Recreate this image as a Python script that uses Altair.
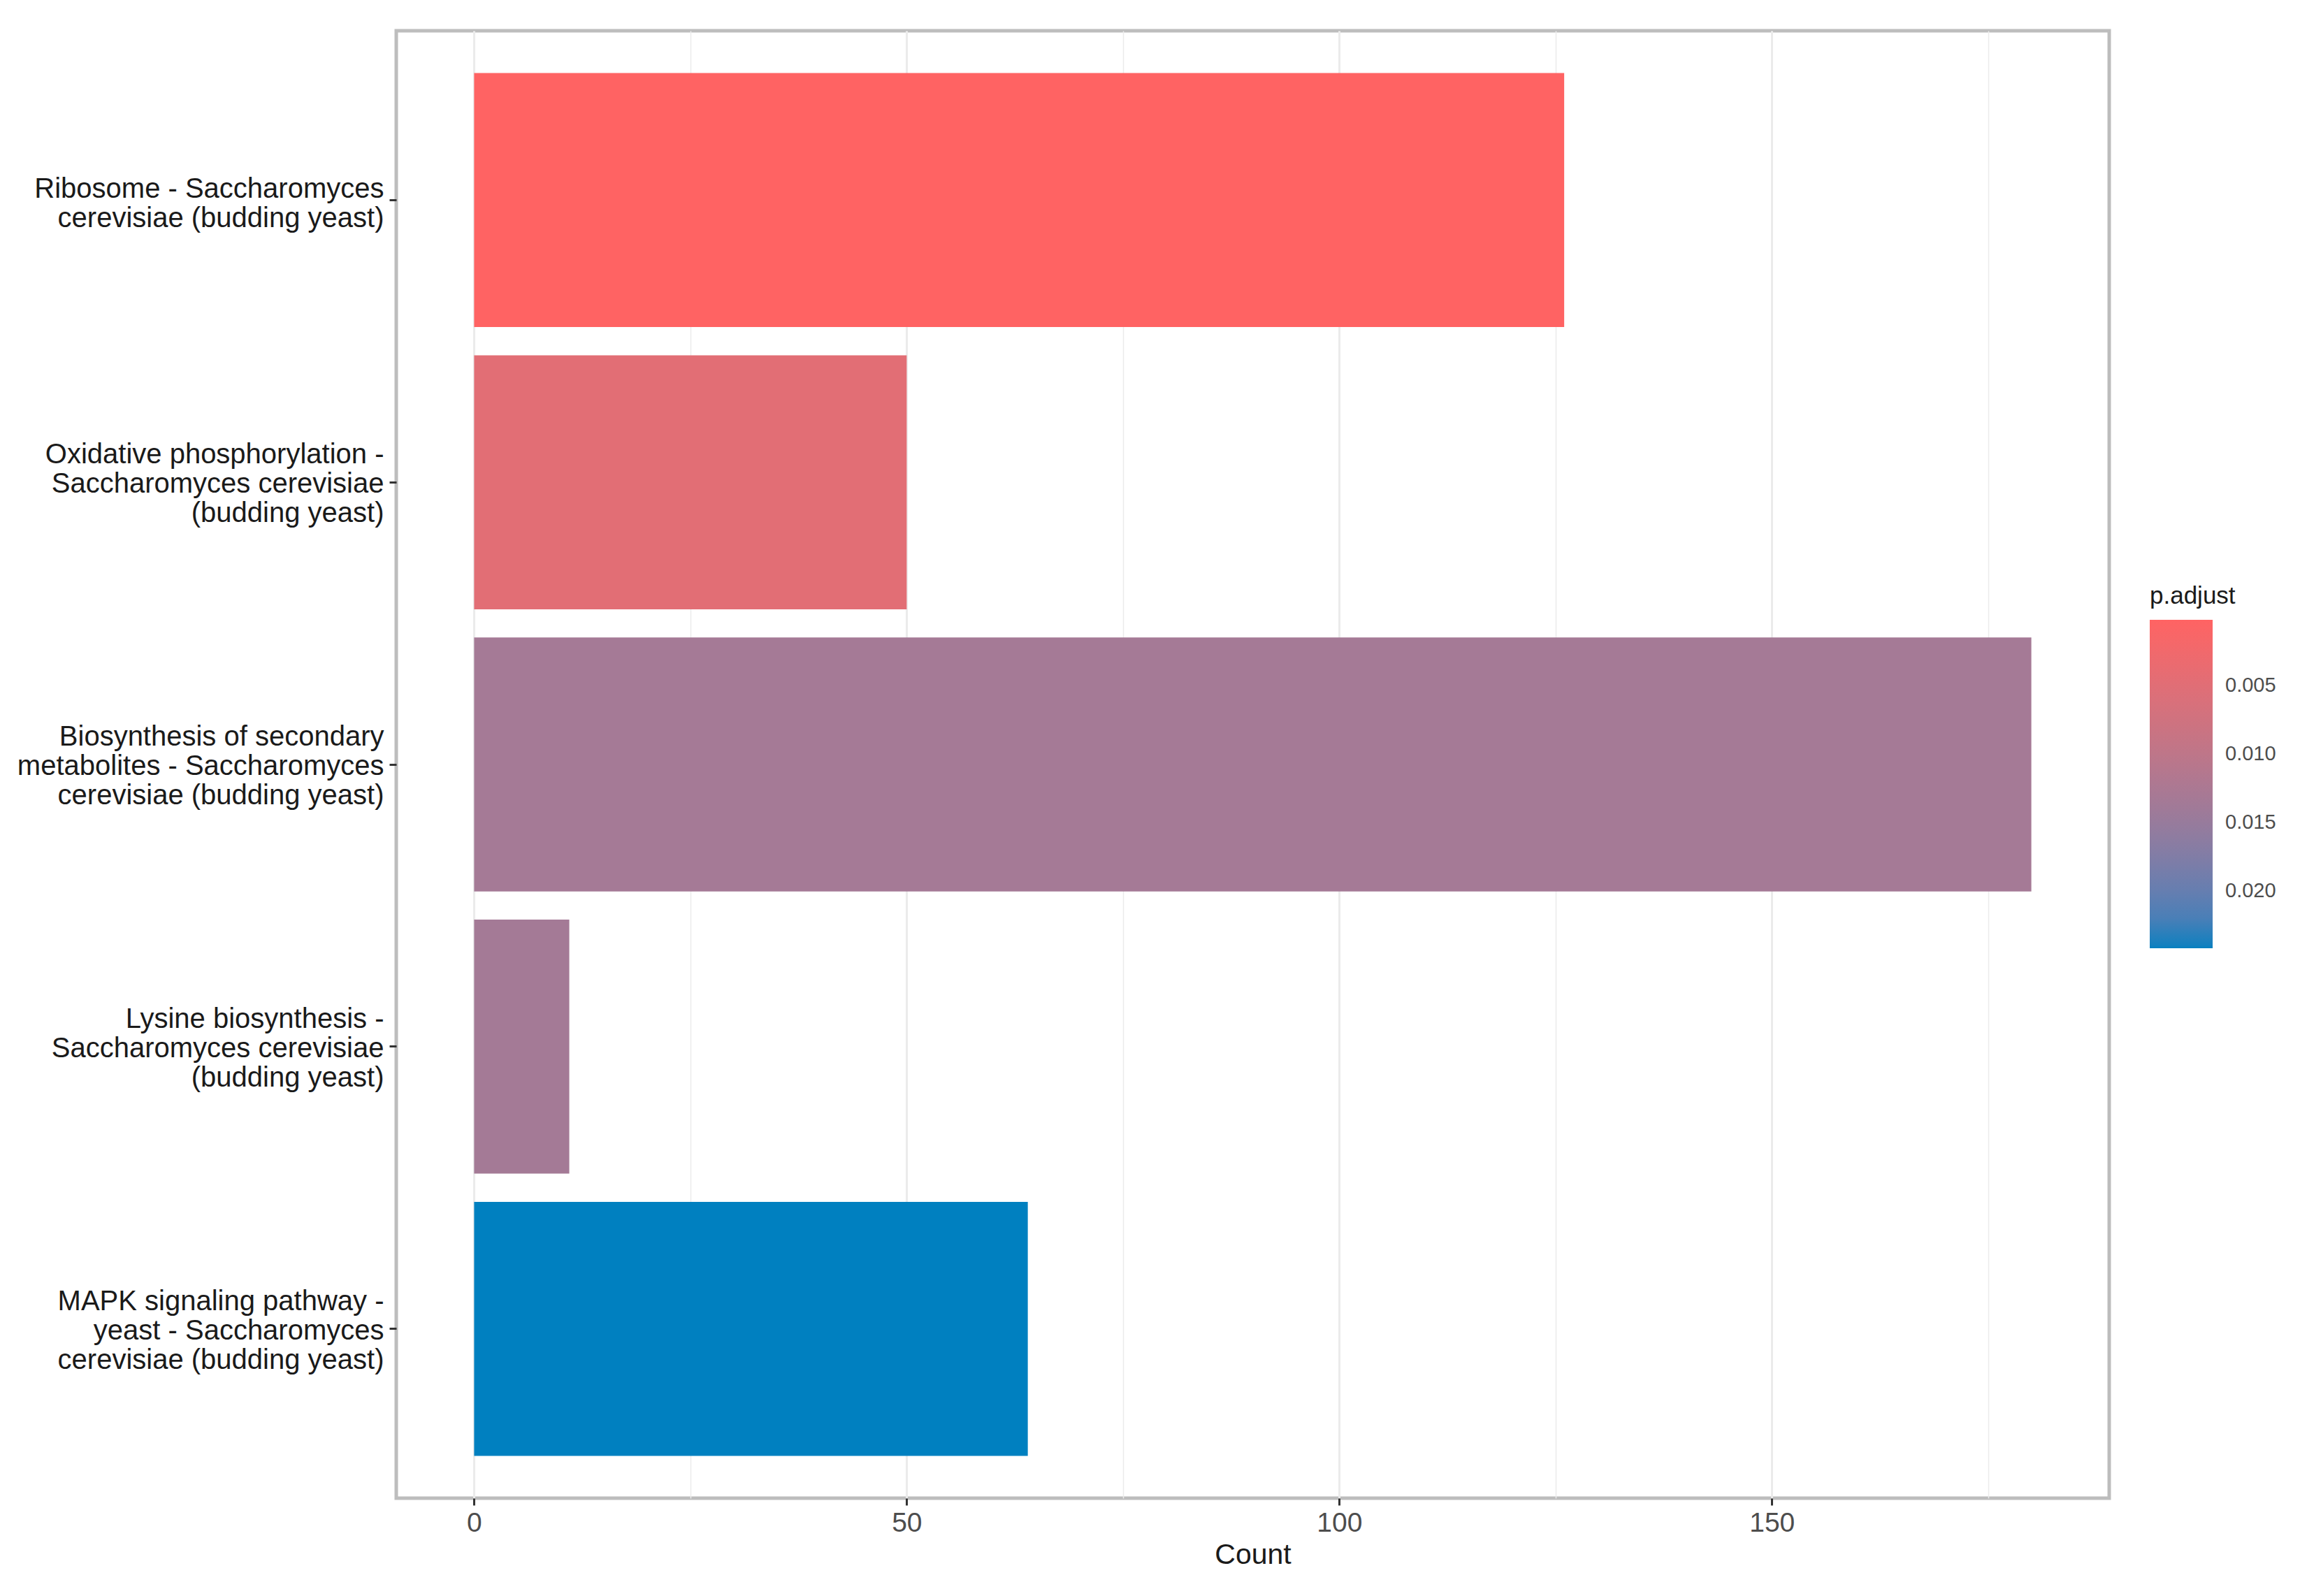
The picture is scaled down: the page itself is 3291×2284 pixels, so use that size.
import altair as alt
import pandas as pd

terms = [
    "Ribosome - Saccharomyces\ncerevisiae (budding yeast)",
    "Oxidative phosphorylation -\nSaccharomyces cerevisiae\n(budding yeast)",
    "Biosynthesis of secondary\nmetabolites - Saccharomyces\ncerevisiae (budding yeast)",
    "Lysine biosynthesis -\nSaccharomyces cerevisiae\n(budding yeast)",
    "MAPK signaling pathway -\nyeast - Saccharomyces\ncerevisiae (budding yeast)",
]
counts = [126, 50, 180, 11, 64]
padj = [0.0002, 0.0048, 0.0134, 0.0135, 0.0242]

x_ticks = [0, 25, 50, 75, 100, 125, 150, 175]
legend_ticks = [0.005, 0.010, 0.015, 0.020]

df = pd.DataFrame({"term": terms, "Count": counts, "padj": padj})

minor = "datum.value % 50 !== 0"

# the legend of Vega-Lite puts high values at the top of a vertical gradient;
# ggplot puts low values at the top, so the colour is driven by -p.adjust
chart = alt.Chart(df).transform_calculate(
    negp="-datum.padj"
).mark_bar(stroke=None).encode(
    x=alt.X(
        "Count:Q",
        scale=alt.Scale(domain=[-9, 189], nice=False, zero=False),
        axis=alt.Axis(
            values=x_ticks,
            labelExpr="datum.value % 50 === 0 ? datum.label : ''",
            gridColor="#EBEBEB",
            gridWidth={"condition": {"test": minor, "value": 1.5}, "value": 3},
            tickOpacity={"condition": {"test": minor, "value": 0}, "value": 1},
            tickColor="#333333",
            tickWidth=3,
            tickSize=10,
            labelPadding=6,
            labelFontSize=39,
            labelColor="#4D4D4D",
            domain=False,
            titleFontSize=41,
            titleFontWeight="normal",
            titleColor="#1A1A1A",
            titlePadding=6,
        ),
        title="Count",
    ),
    y=alt.Y(
        "term:N",
        sort=terms,
        scale=alt.Scale(paddingInner=0.1, paddingOuter=0.15),
        axis=alt.Axis(
            labelExpr="split(datum.label, '\\n')",
            labelFontSize=40,
            labelLineHeight=42,
            labelOffset={
                "condition": {
                    "test": "length(split(datum.value, '\\n')) === 2",
                    "value": -15,
                },
                "value": -39,
            },
            labelColor="#1A1A1A",
            labelLimit=1200,
            labelPadding=8,
            tickColor="#333333",
            tickWidth=3,
            tickSize=10,
            gridColor="#EBEBEB",
            gridWidth=3,
            bandPosition=0.5,
            domain=False,
        ),
        title=None,
    ),
    color=alt.Color(
        "negp:Q",
        title="p.adjust",
        scale=alt.Scale(
            domain=[-max(padj), -min(padj)],
            range=["#0080C0", "#FF6363"],
            interpolate="lab",
        ),
        legend=alt.Legend(
            orient="none",
            legendX=2509,
            legendY=792,
            direction="vertical",
            gradientLength=470,
            gradientThickness=90,
            gradientStrokeWidth=0,
            values=[-v for v in legend_ticks],
            labelExpr="format(-datum.value, '.3f')",
            labelFontSize=29,
            labelOffset=18,
            labelColor="#4D4D4D",
            titleFontSize=35,
            titleFontWeight="normal",
            titleColor="#1A1A1A",
            titlePadding=16,
            padding=0,
        ),
    ),
).properties(
    width=2451,
    height=2100,
    autosize=alt.AutoSizeParams(type="none"),
    padding={"left": 559, "top": 36, "right": 265, "bottom": 132},
).configure(
    font="Liberation Sans",
).configure_view(
    stroke="#BDBDBD",
    strokeWidth=5,
    fill="white",
)

chart.save("out.html", embed_options={"renderer": "svg", "actions": False})
